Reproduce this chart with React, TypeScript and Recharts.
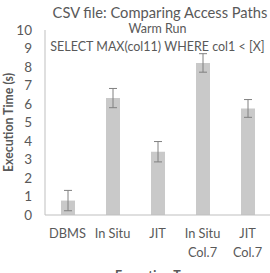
import { BarChart, Bar, XAxis, YAxis, ErrorBar, Label } from "recharts";

const categories = ["DBMS", "In Situ", "JIT", "In Situ\nCol.7", "JIT\nCol.7"];
const times = [0.78, 6.32, 3.42, 8.22, 5.76];
const errors = [0.55, 0.52, 0.55, 0.5, 0.48];
const yTicks = [0, 1, 2, 3, 4, 5, 6, 7, 8, 9, 10];

const data = categories.map((name, i) => ({ name, time: times[i], err: errors[i] }));

const FONT = "Lato, 'Open Sans', sans-serif";
const TEXT = "#595959";

function CategoryTick(props: any) {
  const { x, y, payload } = props;
  const lines = String(payload.value).split("\n");
  return (
    <text x={x} y={y} textAnchor="middle" fill={TEXT} fontFamily={FONT} fontSize={12.8}>
      {lines.map((line, i) => (
        <tspan key={i} x={x} dy={i === 0 ? 15 : 19}>
          {line}
        </tspan>
      ))}
    </text>
  );
}

const heading: React.CSSProperties = {
  position: "absolute",
  left: 45,
  width: 225,
  textAlign: "center",
  whiteSpace: "nowrap",
  fontFamily: FONT,
  color: TEXT,
  lineHeight: "18px",
};

export default function App() {
  return (
    <div style={{ position: "absolute", left: 0, top: 0, width: 270, height: 273, background: "#fff", overflow: "hidden" }}>
      <div style={{ ...heading, left: 50, width: 220, top: 3, fontSize: 14.7 }}>CSV file: Comparing Access Paths</div>
      <div style={{ ...heading, top: 20, fontSize: 12.5 }}>Warm Run</div>
      <div style={{ ...heading, top: 38, fontSize: 12.5 }}>SELECT MAX(col11) WHERE col1 &lt; [X]</div>
      <BarChart width={270} height={273} data={data} margin={{ top: 30, right: 0, bottom: 0, left: 0 }}>
        <YAxis
          width={45}
          domain={[0, 10]}
          ticks={yTicks}
          interval={0}
          tickLine={false}
          axisLine={{ stroke: "#bfbfbf" }}
          tickMargin={7}
          tick={{ fill: TEXT, fontFamily: FONT, fontSize: 13.5 }}
        >
          <Label
            value="Execution Time (s)"
            angle={-90}
            position="insideLeft"
            offset={9}
            style={{ fill: TEXT, fontFamily: FONT, fontSize: 12.3, fontWeight: 700, textAnchor: "middle" }}
          />
        </YAxis>
        <XAxis
          dataKey="name"
          height={58}
          interval={0}
          tickLine={false}
          axisLine={{ stroke: "#bfbfbf" }}
          tick={<CategoryTick />}
        >
          <Label
            value="Execution Type"
            position="insideBottom"
            offset={-7}
            style={{ fill: TEXT, fontFamily: FONT, fontSize: 12.5, fontWeight: 700 }}
          />
        </XAxis>
        <Bar dataKey="time" fill="#c9c9c9" barSize={14} isAnimationActive={false}>
          <ErrorBar dataKey="err" width={4} stroke="#808080" strokeWidth={1} />
        </Bar>
      </BarChart>
    </div>
  );
}
